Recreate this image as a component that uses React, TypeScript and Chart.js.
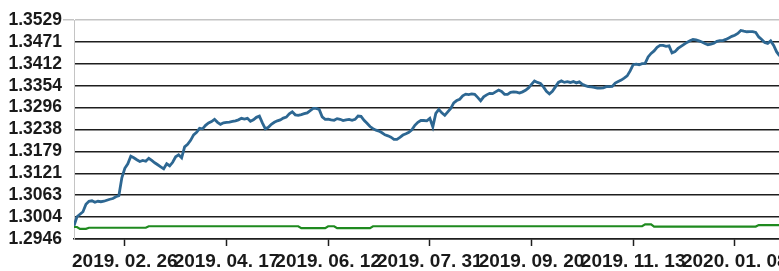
import React, { useEffect, useRef } from 'react';
import { Chart, registerables } from 'chart.js';

Chart.register(...registerables);

// Daily index of trading days (x)
const blueValues = [
  1.29814, 1.30053, 1.30119, 1.30186, 1.30385, 1.30465, 1.30478, 1.30439, 1.30465, 1.30452,
  1.30465, 1.30492, 1.30518, 1.30537, 1.30585, 1.30611, 1.31090, 1.31343, 1.31462, 1.31662,
  1.31622, 1.31569, 1.31523, 1.31550, 1.31529, 1.31609, 1.31550, 1.31489, 1.31436, 1.31382,
  1.31329, 1.31462, 1.31409, 1.31502, 1.31648, 1.31702, 1.31622, 1.31914, 1.31981, 1.32087,
  1.32233, 1.32300, 1.32406, 1.32393, 1.32486, 1.32552, 1.32587, 1.32646, 1.32566, 1.32513,
  1.32552, 1.32566, 1.32571, 1.32592, 1.32606, 1.32632, 1.32672, 1.32651, 1.32672, 1.32592,
  1.32632, 1.32699, 1.32731, 1.32552, 1.32393, 1.32433, 1.32513, 1.32566, 1.32606, 1.32632,
  1.32677, 1.32704, 1.32792, 1.32845, 1.32765, 1.32752, 1.32773, 1.32797, 1.32818, 1.32880,
  1.32938, 1.32938, 1.32911, 1.32712, 1.32646, 1.32651, 1.32632, 1.32619, 1.32664, 1.32646,
  1.32614, 1.32632, 1.32646, 1.32619, 1.32646, 1.32733, 1.32725, 1.32619, 1.32539, 1.32454,
  1.32398, 1.32358, 1.32332, 1.32287, 1.32233, 1.32207, 1.32172, 1.32114, 1.32114, 1.32167,
  1.32228, 1.32260, 1.32300, 1.32366, 1.32486, 1.32566, 1.32614, 1.32614, 1.32606, 1.32672,
  1.32446, 1.32805, 1.32911, 1.32818, 1.32752, 1.32845, 1.32938, 1.33084, 1.33145, 1.33180,
  1.33270, 1.33316, 1.33305, 1.33324, 1.33310, 1.33230, 1.33137, 1.33244, 1.33297, 1.33337,
  1.33329, 1.33377, 1.33425, 1.33387, 1.33310, 1.33310, 1.33363, 1.33377, 1.33371, 1.33345,
  1.33377, 1.33417, 1.33483, 1.33576, 1.33669, 1.33629, 1.33603, 1.33510, 1.33390, 1.33324,
  1.33390, 1.33510, 1.33629, 1.33669, 1.33629, 1.33648, 1.33627, 1.33651, 1.33616, 1.33643,
  1.33576, 1.33542, 1.33518, 1.33510, 1.33496, 1.33475, 1.33475, 1.33483, 1.33515, 1.33518,
  1.33523, 1.33611, 1.33651, 1.33691, 1.33741, 1.33802, 1.33935, 1.34100, 1.34113, 1.34100,
  1.34127, 1.34135, 1.34307, 1.34400, 1.34467, 1.34560, 1.34613, 1.34613, 1.34587, 1.34600,
  1.34414, 1.34448, 1.34533, 1.34587, 1.34640, 1.34693, 1.34738, 1.34775, 1.34759, 1.34733,
  1.34706, 1.34666, 1.34632, 1.34648, 1.34674, 1.34720, 1.34741, 1.34741, 1.34773, 1.34813,
  1.34855, 1.34884, 1.34932, 1.35012, 1.34993, 1.34977, 1.34980, 1.34980, 1.34959, 1.34839,
  1.34773, 1.34693, 1.34666, 1.34733, 1.34613, 1.34440, 1.34334,
];

const greenValues = [
  1.2978, 1.2978, 1.2973, 1.2973, 1.2973, 1.2976, 1.2976, 1.2976, 1.2976, 1.2976,
  1.2976, 1.2976, 1.2976, 1.2976, 1.2976, 1.2976, 1.2976, 1.2976, 1.2976, 1.2976,
  1.2976, 1.2976, 1.2976, 1.2976, 1.2976, 1.2980, 1.2980, 1.2980, 1.2980, 1.2980,
  1.2980, 1.2980, 1.2980, 1.2980, 1.2980, 1.2980, 1.2980, 1.2980, 1.2980, 1.2980,
  1.2980, 1.2980, 1.2980, 1.2980, 1.2980, 1.2980, 1.2980, 1.2980, 1.2980, 1.2980,
  1.2980, 1.2980, 1.2980, 1.2980, 1.2980, 1.2980, 1.2980, 1.2980, 1.2980, 1.2980,
  1.2980, 1.2980, 1.2980, 1.2980, 1.2980, 1.2980, 1.2980, 1.2980, 1.2980, 1.2980,
  1.2980, 1.2980, 1.2980, 1.2980, 1.2980, 1.2980, 1.2975, 1.2975, 1.2975, 1.2975,
  1.2975, 1.2975, 1.2975, 1.2975, 1.2975, 1.2980, 1.2980, 1.2980, 1.2975, 1.2975,
  1.2975, 1.2975, 1.2975, 1.2975, 1.2975, 1.2975, 1.2975, 1.2975, 1.2975, 1.2975,
  1.2980, 1.2980, 1.2980, 1.2980, 1.2980, 1.2980, 1.2980, 1.2980, 1.2980, 1.2980,
  1.2980, 1.2980, 1.2980, 1.2980, 1.2980, 1.2980, 1.2980, 1.2980, 1.2980, 1.2980,
  1.2980, 1.2980, 1.2980, 1.2980, 1.2980, 1.2980, 1.2980, 1.2980, 1.2980, 1.2980,
  1.2980, 1.2980, 1.2980, 1.2980, 1.2980, 1.2980, 1.2980, 1.2980, 1.2980, 1.2980,
  1.2980, 1.2980, 1.2980, 1.2980, 1.2980, 1.2980, 1.2980, 1.2980, 1.2980, 1.2980,
  1.2980, 1.2980, 1.2980, 1.2980, 1.2980, 1.2980, 1.2980, 1.2980, 1.2980, 1.2980,
  1.2980, 1.2980, 1.2980, 1.2980, 1.2980, 1.2980, 1.2980, 1.2980, 1.2980, 1.2980,
  1.2980, 1.2980, 1.2980, 1.2980, 1.2980, 1.2980, 1.2980, 1.2980, 1.2980, 1.2980,
  1.2980, 1.2980, 1.2980, 1.2980, 1.2980, 1.2980, 1.2980, 1.2980, 1.2980, 1.2980,
  1.2980, 1.2985, 1.2985, 1.2985, 1.2979, 1.2979, 1.2979, 1.2979, 1.2979, 1.2979,
  1.2979, 1.2979, 1.2979, 1.2979, 1.2979, 1.2979, 1.2979, 1.2979, 1.2979, 1.2979,
  1.2979, 1.2979, 1.2979, 1.2979, 1.2979, 1.2979, 1.2979, 1.2979, 1.2979, 1.2979,
  1.2979, 1.2979, 1.2979, 1.2979, 1.2979, 1.2979, 1.2979, 1.2979, 1.2979, 1.2983,
  1.2983, 1.2983, 1.2983, 1.2983, 1.2983, 1.2983, 1.2983,
];

const xTickIndex = [17, 51, 85, 119, 153, 187, 221];
const xTickLabels = [
  '2019. 02. 26',
  '2019. 04. 17',
  '2019. 06. 12',
  '2019. 07. 31',
  '2019. 09. 20',
  '2019. 11. 13',
  '2020. 01. 08',
];
const yTickValues = [
  1.2946, 1.3004, 1.3063, 1.3121, 1.3179, 1.3238, 1.3296, 1.3354, 1.3412, 1.3471, 1.3529,
];

const BLUE = '#2d6792';
const GREEN = '#1f8a1f';
const GRID = '#1e1e1e';
const LIGHT = '#c4c4c4';

export default function App() {
  const ref = useRef<HTMLCanvasElement>(null);

  useEffect(() => {
    document.body.style.margin = '0';
    const last = yTickValues.length - 1;
    const chart = new Chart(ref.current as HTMLCanvasElement, {
      type: 'line',
      data: {
        datasets: [
          {
            data: blueValues.map((y, i) => ({ x: i, y })),
            borderColor: BLUE,
            borderWidth: 2.8,
            pointRadius: 0,
            tension: 0,
            fill: false,
          },
          {
            data: greenValues.map((y, i) => ({ x: i, y })),
            borderColor: GREEN,
            borderWidth: 2.2,
            pointRadius: 0,
            tension: 0,
            fill: false,
          },
        ],
      },
      options: {
        responsive: false,
        animation: false,
        layout: { padding: { top: 20, left: 0, right: 0, bottom: 0 } },
        plugins: { legend: { display: false }, tooltip: { enabled: false } },
        scales: {
          x: {
            type: 'linear',
            min: 0,
            max: 242.8,
            afterBuildTicks: (s: any) => {
              s.ticks = xTickIndex.map((v) => ({ value: v }));
            },
            afterFit: (s: any) => {
              s.height = 32;
            },
            grid: {
              drawOnChartArea: false,
              drawTicks: true,
              tickLength: 7,
              tickColor: GRID,
              tickWidth: 1.5,
            },
            border: { display: true, color: GRID, width: 1.5 },
            ticks: {
              autoSkip: false,
              maxRotation: 0,
              minRotation: 0,
              padding: 4,
              color: '#1a1a1a',
              font: { family: "'Liberation Sans', Arial", size: 19, weight: 'bold' },
              callback: (v: any) => {
                const k = xTickIndex.indexOf(Number(v));
                return k >= 0 ? xTickLabels[k] : '';
              },
            },
          },
          y: {
            min: 1.2946,
            max: 1.3529,
            afterBuildTicks: (s: any) => {
              s.ticks = yTickValues.map((v) => ({ value: v }));
            },
            afterFit: (s: any) => {
              s.width = 74;
            },
            grid: {
              color: (ctx: any) => (ctx.index === last ? LIGHT : GRID),
              lineWidth: 1.5,
              drawTicks: true,
              tickLength: 11,
              tickColor: (ctx: any) => (ctx.index === last ? LIGHT : 'rgba(0,0,0,0)'),
            },
            border: { display: true, color: LIGHT, width: 1 },
            ticks: {
              autoSkip: false,
              padding: 1,
              color: '#1a1a1a',
              font: { family: "'Liberation Sans', Arial", size: 17.5, weight: 'bold', lineHeight: 1 },
              callback: (v: any) => Number(v).toFixed(4),
            },
          },
        },
      },
    } as any);
    return () => chart.destroy();
  }, []);

  return (
    <div
      style={{
        position: 'fixed',
        left: 0,
        top: 0,
        width: 779,
        height: 271,
        overflow: 'hidden',
        background: '#fff',
      }}
    >
      <canvas ref={ref} width={800} height={271} style={{ display: 'block' }} />
    </div>
  );
}
